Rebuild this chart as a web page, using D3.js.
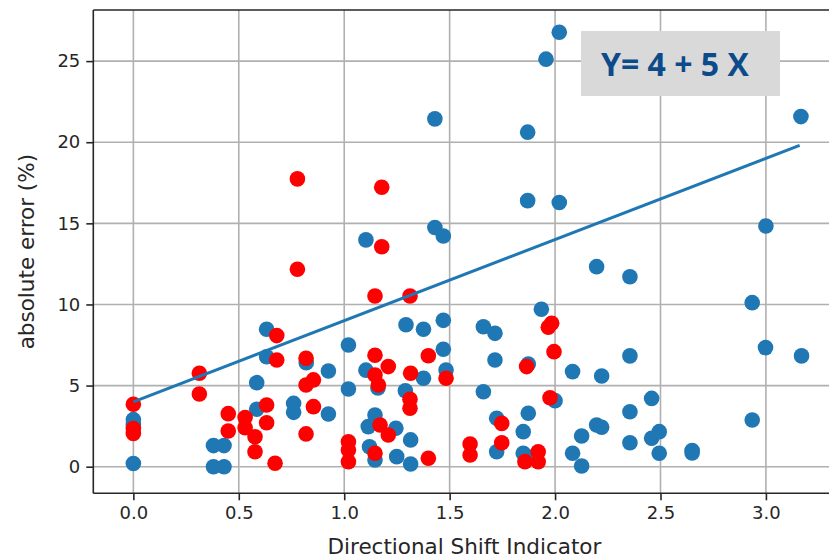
<!DOCTYPE html>
<html>
<head>
<meta charset="utf-8">
<script src="https://cdn.jsdelivr.net/npm/d3@7"></script>
<style>
  body { margin: 0; background: #fff; }
  svg text { font-family: "DejaVu Sans", sans-serif; fill: #262626; }
</style>
</head>
<body>
<div class="container"></div>
<script>
// blue series (x, y)
const blueX = [0, 0, 0, 0.38, 0.43, 0.38, 0.43, 0.585, 0.585, 0.632, 0.632, 0.76, 0.76,
  0.82, 0.925, 0.925, 1.02, 1.02, 1.103, 1.16, 1.146, 1.114, 1.12, 1.146, 1.249, 1.245,
  1.293, 1.376, 1.47, 1.47, 1.376, 1.483, 1.29, 1.315, 1.315, 1.66, 1.715, 1.715, 1.66,
  1.873, 1.935, 1.723, 1.723, 1.873, 1.849, 1.849, 1.857, 2.0, 2.083, 2.221, 2.355, 2.458,
  2.355, 2.197, 2.221, 2.126, 2.083, 2.126, 2.355, 2.458, 2.494, 2.494, 2.65, 2.65,
  2.935, 2.998, 3.169, 2.935, 2.02, 1.957, 3.166, 2.02, 3.0, 2.197, 2.355, 1.43, 1.87,
  1.87, 1.43, 1.47, 1.103];
const blueY = [0.2, 2.6, 2.9, 1.3, 1.3, 0, 0, 5.18, 3.54, 8.47, 6.78, 3.9, 3.35,
  6.41, 5.9, 3.25, 7.5, 4.79, 5.95, 4.85, 3.19, 2.47, 1.23, 0.41, 0.62, 2.37,
  8.75, 8.47, 9.02, 7.24, 5.45, 5.96, 4.68, 1.65, 0.17, 8.63, 8.22, 6.58, 4.62,
  6.33, 9.7, 2.98, 0.92, 3.29, 2.16, 0.83, 0.72, 4.07, 5.86, 5.59, 6.83, 4.21,
  3.39, 2.57, 2.43, 1.89, 0.83, 0.04, 1.48, 1.75, 2.16, 0.83, 1.0, 0.85,
  10.11, 7.34, 6.83, 2.88, 26.78, 25.12, 21.58, 16.28, 14.84, 12.33, 11.71, 21.44, 20.62,
  16.4, 14.74, 14.22, 13.98];

// red series (x, y)
const redX = [0, 0, 0, 0.313, 0.313, 0.45, 0.45, 0.53, 0.53, 0.577, 0.577, 0.632, 0.632,
  0.672, 0.68, 0.68, 0.778, 0.778, 0.819, 0.819, 0.854, 0.854, 0.819, 1.02, 1.02, 1.02,
  1.146, 1.146, 1.209, 1.162, 1.17, 1.209, 1.146, 1.146, 1.312, 1.178, 1.178, 1.399,
  1.315, 1.483, 1.312, 1.312, 1.399, 1.597, 1.597, 1.747, 1.747, 1.865, 1.857, 1.92,
  1.92, 1.984, 1.968, 1.995, 1.976];
const redY = [3.85, 2.35, 2.05, 5.76, 4.48, 3.27, 2.2, 3.03, 2.4, 1.85, 0.92, 3.8, 2.71,
  0.21, 8.08, 6.58, 17.74, 12.17, 6.68, 5.04, 5.35, 3.7, 2.02, 1.54, 1.03, 0.31,
  6.87, 5.65, 6.17, 5.04, 2.57, 1.95, 0.83, 10.52, 10.52, 17.22, 13.56, 6.84,
  5.76, 5.45, 4.15, 3.6, 0.52, 1.4, 0.72, 2.67, 1.48, 6.17, 0.31, 0.92,
  0.31, 8.84, 8.6, 7.09, 4.25];

// fitted line Y = 4 + 5 X
const fitX = [0, 3.16];
const fitY = fitX.map(v => 4 + 5 * v);

const xTicks = [0, 0.5, 1, 1.5, 2, 2.5, 3];
const yTicks = [0, 5, 10, 15, 20, 25];

const W = 829, H = 560;
const plotL = 93.3, plotT = 10, plotR = 835.5, plotB = 493.3;

const x = d3.scaleLinear().domain([-0.19, 3.33]).range([plotL, plotR]);
const y = d3.scaleLinear().domain([-1.64, 28.15]).range([plotB, plotT]);

const svg = d3.select(".container").append("svg")
  .attr("width", W).attr("height", H);

// grid
svg.append("g").selectAll("line").data(xTicks).enter().append("line")
  .attr("x1", d => x(d)).attr("x2", d => x(d))
  .attr("y1", plotT).attr("y2", plotB)
  .attr("stroke", "#b0b0b0").attr("stroke-width", 1.6);
svg.append("g").selectAll("line").data(yTicks).enter().append("line")
  .attr("y1", d => y(d)).attr("y2", d => y(d))
  .attr("x1", plotL).attr("x2", plotR)
  .attr("stroke", "#b0b0b0").attr("stroke-width", 1.6);

// points
const blue = blueX.map((v, i) => [v, blueY[i]]);
const red = redX.map((v, i) => [v, redY[i]]);

svg.append("g").selectAll("circle").data(blue).enter().append("circle")
  .attr("cx", d => x(d[0])).attr("cy", d => y(d[1])).attr("r", 7.8)
  .attr("fill", "#1f77b4");
svg.append("g").selectAll("circle").data(red).enter().append("circle")
  .attr("cx", d => x(d[0])).attr("cy", d => y(d[1])).attr("r", 7.8)
  .attr("fill", "#ff0000");

// fit line
svg.append("path")
  .datum(fitX.map((v, i) => [v, fitY[i]]))
  .attr("d", d3.line().x(d => x(d[0])).y(d => y(d[1])))
  .attr("fill", "none").attr("stroke", "#1f77b4").attr("stroke-width", 3);

// axes
const xAxis = d3.axisBottom(x).tickValues(xTicks).tickFormat(d3.format(".1f"))
  .tickSize(7).tickPadding(6);
const yAxis = d3.axisLeft(y).tickValues(yTicks).tickFormat(d3.format("d"))
  .tickSize(7).tickPadding(6);

const gx = svg.append("g").attr("transform", `translate(0,${plotB})`).call(xAxis);
const gy = svg.append("g").attr("transform", `translate(${plotL},0)`).call(yAxis);
[gx, gy].forEach(g => {
  g.selectAll("path").attr("stroke", "#262626").attr("stroke-width", 1.6);
  g.selectAll("line").attr("stroke", "#262626").attr("stroke-width", 1.6);
  g.selectAll("text").style("font-size", "18px").attr("fill", "#262626");
});
gy.select(".domain").attr("d", `M0,${plotB}V${plotT}`);
gx.select(".domain").attr("d", `M${plotL},0H${plotR}`);

// top spine
svg.append("line").attr("x1", plotL).attr("x2", plotR).attr("y1", plotT).attr("y2", plotT)
  .attr("stroke", "#262626").attr("stroke-width", 1.6);

// labels
svg.append("text").attr("x", (plotL + plotR) / 2).attr("y", 554)
  .attr("text-anchor", "middle").style("font-size", "21.5px")
  .text("Directional Shift Indicator");
svg.append("text").attr("transform", `translate(34,${(plotT + plotB) / 2}) rotate(-90)`)
  .attr("text-anchor", "middle").style("font-size", "21.5px")
  .text("absolute error (%)");

// equation box
svg.append("rect").attr("x", 581).attr("y", 31).attr("width", 199).attr("height", 65)
  .attr("fill", "#d9d9d9");
svg.append("text").attr("x", 601).attr("y", 76)
  .style("font-family", "'Open Sans', sans-serif").style("font-weight", "bold")
  .style("font-size", "32px").style("fill", "#0d4a8a")
  .text("Y= 4 + 5 X");
</script>
</body>
</html>
